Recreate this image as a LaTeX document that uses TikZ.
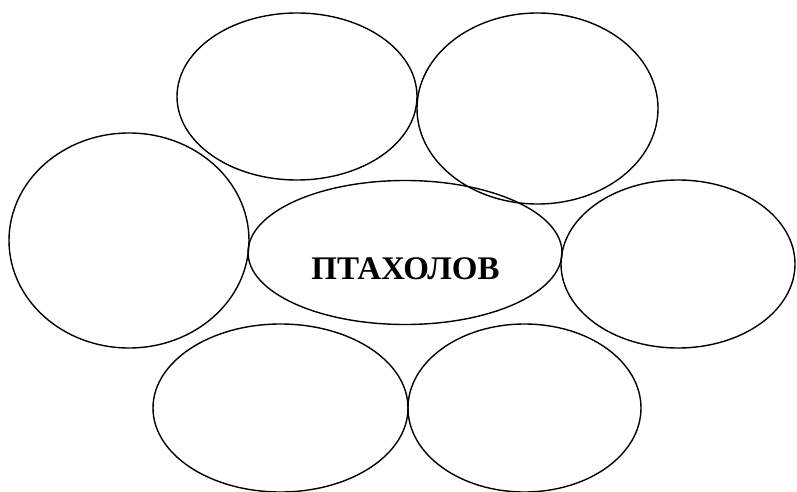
\documentclass[tikz,border=0pt]{standalone}
\usepackage{fontspec}
\setmainfont{Liberation Serif}
\usepackage{tikz}
\usetikzlibrary{shapes.geometric}

\begin{document}
\begin{tikzpicture}[
  x=1pt, y=1pt,
  oval/.style={
    ellipse,
    draw=black,
    line width=1.4pt,
    inner sep=0pt
  },
  title/.style={
    font=\fontsize{33}{38}\selectfont\bfseries,
    inner sep=0pt
  }
]
  \useasboundingbox (0,0) rectangle (797,491);

  % Top row
  \node[oval, minimum width=240, minimum height=167] (topl) at (297,394.5) {};
  \node[oval, minimum width=241, minimum height=191] (topr) at (537.5,382.5) {};

  % Middle row
  \node[oval, minimum width=240, minimum height=215] (midl) at (129,250.5) {};
  \node[oval, minimum width=314, minimum height=144] (hub) at (405,238.5) {};
  \node[oval, minimum width=234, minimum height=168] (midr) at (678,227) {};

  % Bottom row
  \node[oval, minimum width=255, minimum height=168] (botl) at (280.5,83) {};
  \node[oval, minimum width=233, minimum height=168] (botr) at (524.5,83) {};

  % Label
  \node[title, anchor=base] (word) at (405.5,212) {ПТАХОЛОВ};

\end{tikzpicture}
\end{document}
